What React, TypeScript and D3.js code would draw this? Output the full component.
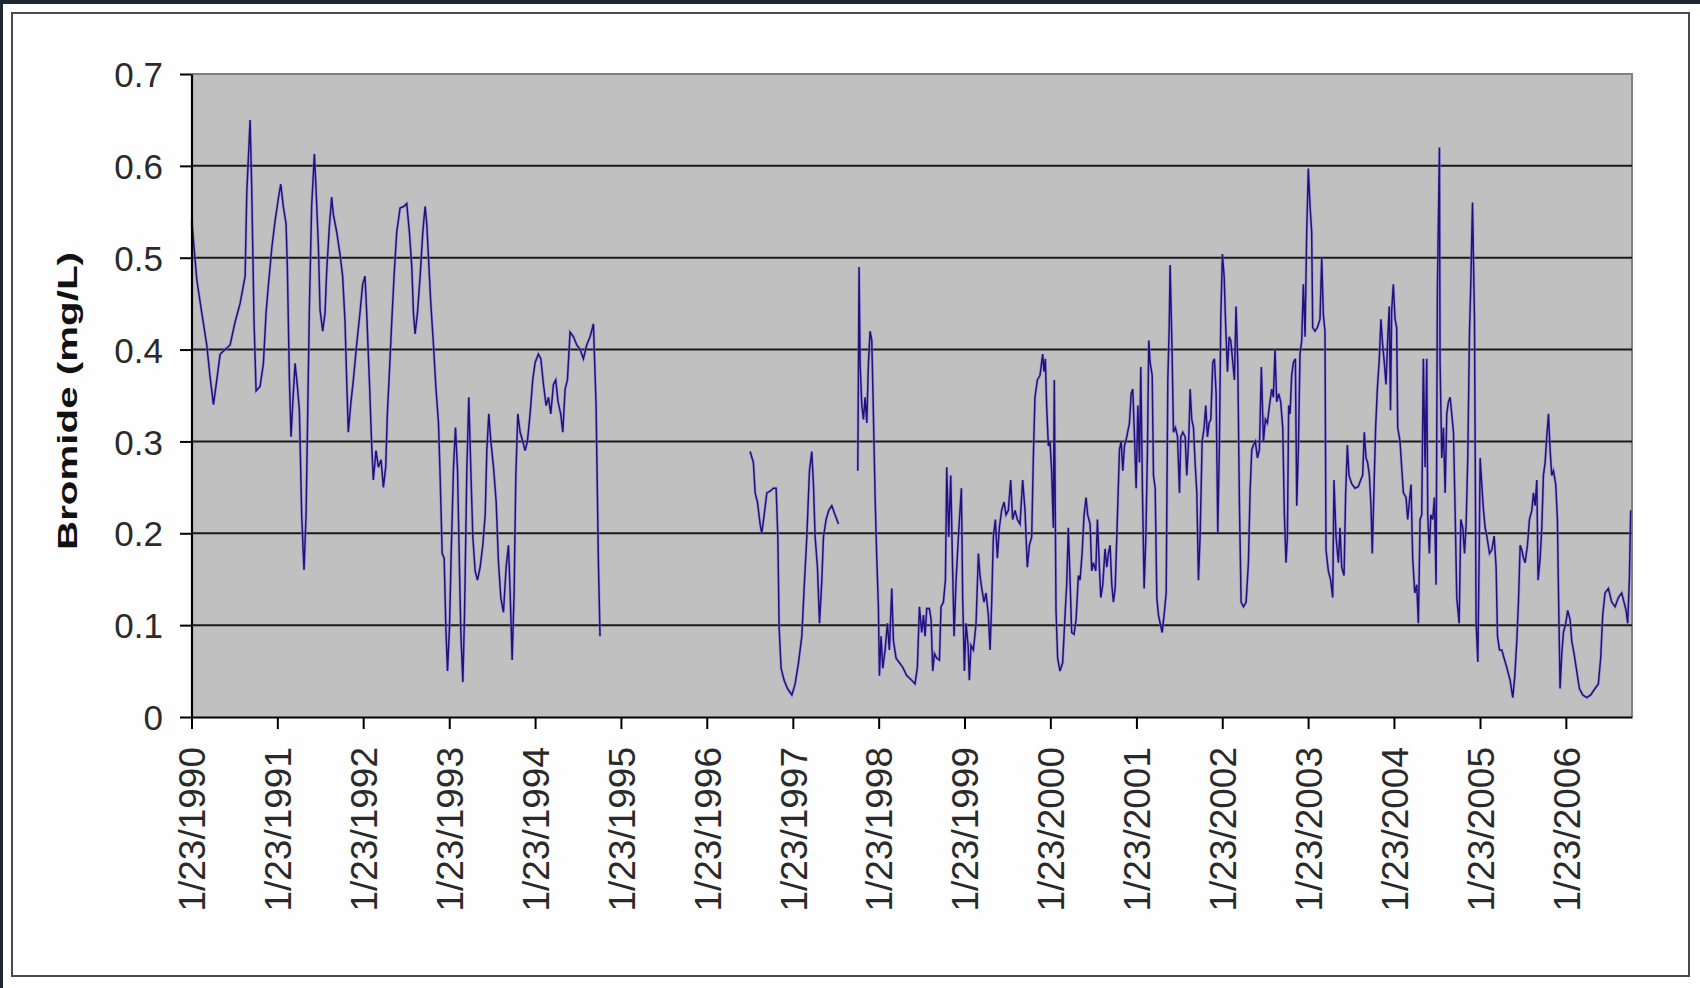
import React, { useEffect, useRef } from "react";
import * as d3 from "d3";

// Bromide (mg/L) readings, [decimal year, value]
const segment1: [number, number][] = [
  [1990.064, 0.54], [1990.091, 0.51], [1990.122, 0.476], [1990.18, 0.44], [1990.238, 0.405],
  [1990.277, 0.37], [1990.316, 0.34], [1990.355, 0.367], [1990.394, 0.395], [1990.452, 0.4],
  [1990.51, 0.405], [1990.568, 0.43], [1990.626, 0.45], [1990.685, 0.48], [1990.704, 0.57],
  [1990.743, 0.65], [1990.762, 0.575], [1990.789, 0.43], [1990.813, 0.355], [1990.859, 0.36],
  [1990.898, 0.385], [1990.929, 0.44], [1990.956, 0.47], [1990.995, 0.51], [1991.034, 0.54],
  [1991.073, 0.565], [1991.1, 0.58], [1991.131, 0.555], [1991.162, 0.537], [1991.177, 0.49],
  [1991.201, 0.367], [1991.22, 0.305], [1991.239, 0.34], [1991.267, 0.385], [1991.294, 0.36],
  [1991.317, 0.334], [1991.344, 0.22], [1991.371, 0.16], [1991.395, 0.22], [1991.414, 0.33],
  [1991.433, 0.443], [1991.46, 0.556], [1991.492, 0.613], [1991.511, 0.575], [1991.538, 0.514],
  [1991.558, 0.443], [1991.589, 0.42], [1991.616, 0.44], [1991.635, 0.485], [1991.666, 0.533],
  [1991.693, 0.566], [1991.713, 0.547], [1991.752, 0.528], [1991.79, 0.504], [1991.821, 0.48],
  [1991.849, 0.43], [1991.868, 0.367], [1991.887, 0.31], [1991.915, 0.34], [1991.946, 0.367],
  [1991.984, 0.405], [1992.023, 0.44], [1992.054, 0.471], [1992.081, 0.48], [1992.101, 0.44],
  [1992.132, 0.367], [1992.159, 0.296], [1992.178, 0.258], [1992.209, 0.29], [1992.237, 0.272],
  [1992.268, 0.28], [1992.295, 0.25], [1992.322, 0.272], [1992.341, 0.33], [1992.365, 0.376],
  [1992.392, 0.43], [1992.419, 0.48], [1992.45, 0.528], [1992.489, 0.554], [1992.535, 0.556],
  [1992.566, 0.559], [1992.597, 0.528], [1992.625, 0.49], [1992.644, 0.44], [1992.663, 0.417],
  [1992.691, 0.44], [1992.722, 0.48], [1992.753, 0.528], [1992.78, 0.556], [1992.799, 0.537],
  [1992.819, 0.5], [1992.846, 0.45], [1992.877, 0.405], [1992.904, 0.36], [1992.935, 0.32],
  [1992.954, 0.263], [1992.978, 0.178], [1993.001, 0.173], [1993.021, 0.097], [1993.04, 0.05],
  [1993.063, 0.097], [1993.083, 0.178], [1993.11, 0.272], [1993.133, 0.315], [1993.157, 0.268],
  [1993.176, 0.178], [1993.195, 0.092], [1993.219, 0.038], [1993.238, 0.111], [1993.265, 0.268],
  [1993.288, 0.348], [1993.312, 0.268], [1993.335, 0.196], [1993.362, 0.159], [1993.389, 0.149],
  [1993.42, 0.163], [1993.451, 0.187], [1993.479, 0.22], [1993.498, 0.29], [1993.521, 0.33],
  [1993.545, 0.3], [1993.576, 0.272], [1993.607, 0.234], [1993.634, 0.168], [1993.661, 0.13],
  [1993.692, 0.114], [1993.723, 0.163], [1993.75, 0.187], [1993.77, 0.135], [1993.793, 0.062],
  [1993.816, 0.135], [1993.836, 0.263], [1993.859, 0.33], [1993.886, 0.31], [1993.917, 0.3],
  [1993.944, 0.29], [1993.971, 0.3], [1994.002, 0.33], [1994.033, 0.367], [1994.061, 0.386],
  [1994.099, 0.395], [1994.127, 0.39], [1994.158, 0.362], [1994.189, 0.339], [1994.216, 0.348],
  [1994.243, 0.33], [1994.274, 0.362], [1994.301, 0.367], [1994.328, 0.343], [1994.359, 0.33],
  [1994.383, 0.31], [1994.41, 0.357], [1994.437, 0.367], [1994.468, 0.419], [1994.507, 0.414],
  [1994.546, 0.405], [1994.585, 0.4], [1994.623, 0.39], [1994.662, 0.405], [1994.701, 0.414],
  [1994.74, 0.428], [1994.771, 0.339], [1994.798, 0.168], [1994.817, 0.088],
];

const segment2: [number, number][] = [
  [1996.564, 0.289], [1996.602, 0.277], [1996.622, 0.244], [1996.649, 0.234], [1996.68, 0.21],
  [1996.699, 0.2], [1996.727, 0.22], [1996.758, 0.244], [1996.796, 0.246], [1996.835, 0.249],
  [1996.866, 0.249], [1996.886, 0.196], [1996.901, 0.097], [1996.924, 0.053], [1996.959, 0.04],
  [1996.998, 0.031], [1997.049, 0.024], [1997.087, 0.036], [1997.126, 0.059], [1997.165, 0.088],
  [1997.192, 0.14], [1997.223, 0.196], [1997.254, 0.268], [1997.281, 0.289], [1997.301, 0.252],
  [1997.32, 0.196], [1997.347, 0.163], [1997.371, 0.102], [1997.398, 0.149], [1997.417, 0.196],
  [1997.448, 0.215], [1997.479, 0.225], [1997.514, 0.23], [1997.553, 0.22], [1997.592, 0.21],
];

const segment3: [number, number][] = [
  [1997.817, 0.268], [1997.832, 0.49], [1997.844, 0.385], [1997.863, 0.34], [1997.883, 0.324],
  [1997.902, 0.348], [1997.922, 0.32], [1997.941, 0.385], [1997.96, 0.42], [1997.98, 0.41],
  [1997.999, 0.33], [1998.019, 0.239], [1998.038, 0.173], [1998.057, 0.12], [1998.069, 0.045],
  [1998.088, 0.088], [1998.108, 0.053], [1998.135, 0.073], [1998.162, 0.102], [1998.185, 0.073],
  [1998.213, 0.14], [1998.232, 0.083], [1998.263, 0.064], [1998.302, 0.059], [1998.341, 0.054],
  [1998.387, 0.045], [1998.445, 0.04], [1998.484, 0.036], [1998.511, 0.054], [1998.535, 0.12],
  [1998.562, 0.092], [1998.582, 0.111], [1998.601, 0.088], [1998.62, 0.118], [1998.651, 0.118],
  [1998.671, 0.106], [1998.69, 0.05], [1998.71, 0.069], [1998.737, 0.064], [1998.768, 0.062],
  [1998.787, 0.12], [1998.814, 0.125], [1998.838, 0.149], [1998.853, 0.272], [1998.876, 0.196],
  [1998.9, 0.263], [1998.919, 0.173], [1998.939, 0.088], [1998.962, 0.149], [1998.989, 0.196],
  [1999.008, 0.225], [1999.024, 0.249], [1999.039, 0.13], [1999.059, 0.05], [1999.078, 0.102],
  [1999.102, 0.078], [1999.117, 0.04], [1999.136, 0.078], [1999.164, 0.073], [1999.195, 0.102],
  [1999.222, 0.178], [1999.241, 0.154], [1999.261, 0.14], [1999.288, 0.125], [1999.311, 0.135],
  [1999.338, 0.111], [1999.358, 0.073], [1999.377, 0.125], [1999.396, 0.196], [1999.42, 0.215],
  [1999.443, 0.173], [1999.466, 0.206], [1999.493, 0.225], [1999.521, 0.234], [1999.544, 0.22],
  [1999.571, 0.225], [1999.598, 0.258], [1999.621, 0.215], [1999.649, 0.225], [1999.676, 0.215],
  [1999.707, 0.21], [1999.738, 0.258], [1999.765, 0.225], [1999.792, 0.163], [1999.816, 0.187],
  [1999.843, 0.196], [1999.862, 0.282], [1999.881, 0.348], [1999.909, 0.367], [1999.94, 0.372],
  [1999.971, 0.395], [1999.986, 0.376], [2000.002, 0.39], [2000.017, 0.339], [2000.037, 0.295],
  [2000.056, 0.3], [2000.075, 0.268], [2000.095, 0.206], [2000.106, 0.367], [2000.126, 0.116],
  [2000.145, 0.064], [2000.172, 0.05], [2000.203, 0.059], [2000.231, 0.111], [2000.25, 0.144],
  [2000.269, 0.206], [2000.289, 0.149], [2000.308, 0.092], [2000.335, 0.09], [2000.359, 0.106],
  [2000.386, 0.154], [2000.405, 0.149], [2000.429, 0.178], [2000.452, 0.22], [2000.475, 0.239],
  [2000.494, 0.22], [2000.522, 0.21], [2000.541, 0.159], [2000.56, 0.168], [2000.588, 0.159],
  [2000.607, 0.215], [2000.63, 0.163], [2000.646, 0.13], [2000.669, 0.144], [2000.696, 0.183],
  [2000.716, 0.163], [2000.735, 0.178], [2000.754, 0.187], [2000.774, 0.144], [2000.793, 0.125],
  [2000.813, 0.14], [2000.84, 0.22], [2000.863, 0.291], [2000.883, 0.3], [2000.902, 0.268],
  [2000.921, 0.295], [2000.948, 0.305], [2000.979, 0.32], [2000.999, 0.352], [2001.018, 0.357],
  [2001.038, 0.305], [2001.057, 0.249], [2001.077, 0.339], [2001.096, 0.277], [2001.111, 0.381],
  [2001.131, 0.244], [2001.15, 0.14], [2001.17, 0.196], [2001.189, 0.291], [2001.204, 0.41],
  [2001.22, 0.386], [2001.244, 0.372], [2001.259, 0.263], [2001.279, 0.249], [2001.298, 0.13],
  [2001.317, 0.111], [2001.337, 0.102], [2001.36, 0.092], [2001.383, 0.111], [2001.407, 0.135],
  [2001.426, 0.367], [2001.442, 0.424], [2001.453, 0.492], [2001.473, 0.41], [2001.492, 0.31],
  [2001.515, 0.315], [2001.539, 0.305], [2001.562, 0.244], [2001.577, 0.305], [2001.601, 0.31],
  [2001.628, 0.305], [2001.647, 0.263], [2001.671, 0.305], [2001.686, 0.357], [2001.705, 0.324],
  [2001.725, 0.315], [2001.744, 0.277], [2001.764, 0.244], [2001.783, 0.149], [2001.802, 0.196],
  [2001.826, 0.3], [2001.849, 0.315], [2001.868, 0.339], [2001.888, 0.305], [2001.907, 0.32],
  [2001.927, 0.324], [2001.95, 0.386], [2001.969, 0.39], [2001.989, 0.352], [2002.008, 0.201],
  [2002.027, 0.296], [2002.043, 0.433], [2002.062, 0.504], [2002.082, 0.48], [2002.101, 0.424],
  [2002.121, 0.376], [2002.14, 0.414], [2002.159, 0.41], [2002.179, 0.39], [2002.202, 0.367],
  [2002.221, 0.447], [2002.241, 0.386], [2002.26, 0.234], [2002.28, 0.125], [2002.307, 0.12],
  [2002.338, 0.125], [2002.365, 0.168], [2002.384, 0.244], [2002.404, 0.291], [2002.423, 0.296],
  [2002.446, 0.3], [2002.47, 0.282], [2002.493, 0.291], [2002.516, 0.381], [2002.54, 0.3],
  [2002.563, 0.324], [2002.586, 0.32], [2002.61, 0.339], [2002.637, 0.357], [2002.656, 0.348],
  [2002.675, 0.4], [2002.695, 0.343], [2002.718, 0.352], [2002.741, 0.343], [2002.765, 0.315],
  [2002.784, 0.22], [2002.803, 0.168], [2002.819, 0.196], [2002.834, 0.339], [2002.85, 0.33],
  [2002.869, 0.372], [2002.889, 0.386], [2002.912, 0.39], [2002.928, 0.23], [2002.947, 0.291],
  [2002.966, 0.395], [2002.986, 0.41], [2003.005, 0.471], [2003.025, 0.414], [2003.044, 0.528],
  [2003.063, 0.597], [2003.083, 0.556], [2003.102, 0.528], [2003.114, 0.424], [2003.141, 0.42],
  [2003.168, 0.424], [2003.199, 0.433], [2003.219, 0.5], [2003.238, 0.438], [2003.257, 0.42],
  [2003.269, 0.182], [2003.296, 0.159], [2003.323, 0.149], [2003.347, 0.13], [2003.362, 0.258],
  [2003.386, 0.196], [2003.413, 0.168], [2003.432, 0.206], [2003.452, 0.163], [2003.479, 0.154],
  [2003.498, 0.244], [2003.518, 0.296], [2003.537, 0.263], [2003.568, 0.254], [2003.607, 0.249],
  [2003.646, 0.251], [2003.673, 0.258], [2003.696, 0.263], [2003.715, 0.31], [2003.735, 0.282],
  [2003.754, 0.277], [2003.774, 0.263], [2003.793, 0.23], [2003.808, 0.178], [2003.828, 0.249],
  [2003.847, 0.315], [2003.867, 0.357], [2003.89, 0.39], [2003.909, 0.433], [2003.929, 0.405],
  [2003.948, 0.386], [2003.968, 0.362], [2003.987, 0.41], [2004.006, 0.447], [2004.02, 0.334],
  [2004.034, 0.443], [2004.053, 0.471], [2004.073, 0.433], [2004.092, 0.424], [2004.104, 0.315],
  [2004.131, 0.3], [2004.15, 0.272], [2004.17, 0.244], [2004.201, 0.239], [2004.22, 0.215],
  [2004.239, 0.234], [2004.259, 0.253], [2004.278, 0.173], [2004.302, 0.135], [2004.325, 0.144],
  [2004.344, 0.102], [2004.364, 0.215], [2004.383, 0.22], [2004.402, 0.39], [2004.422, 0.272],
  [2004.441, 0.39], [2004.453, 0.22], [2004.472, 0.178], [2004.488, 0.22], [2004.511, 0.215],
  [2004.53, 0.239], [2004.55, 0.144], [2004.565, 0.466], [2004.589, 0.62], [2004.596, 0.386],
  [2004.616, 0.282], [2004.635, 0.315], [2004.655, 0.244], [2004.674, 0.33], [2004.693, 0.343],
  [2004.713, 0.348], [2004.732, 0.33], [2004.752, 0.31], [2004.771, 0.225], [2004.79, 0.13],
  [2004.818, 0.102], [2004.837, 0.215], [2004.86, 0.206], [2004.88, 0.178], [2004.899, 0.21],
  [2004.918, 0.282], [2004.938, 0.419], [2004.953, 0.471], [2004.973, 0.56], [2004.996, 0.433],
  [2005.015, 0.102], [2005.035, 0.06], [2005.05, 0.173], [2005.062, 0.282], [2005.081, 0.253],
  [2005.101, 0.225], [2005.12, 0.206], [2005.14, 0.197], [2005.171, 0.178], [2005.198, 0.182],
  [2005.225, 0.197], [2005.248, 0.163], [2005.264, 0.088], [2005.287, 0.073], [2005.314, 0.073],
  [2005.341, 0.064], [2005.372, 0.054], [2005.411, 0.04], [2005.442, 0.021], [2005.466, 0.045],
  [2005.489, 0.083], [2005.508, 0.125], [2005.528, 0.187], [2005.547, 0.182], [2005.567, 0.173],
  [2005.586, 0.168], [2005.613, 0.187], [2005.636, 0.215], [2005.664, 0.225], [2005.683, 0.244],
  [2005.702, 0.23], [2005.722, 0.258], [2005.737, 0.149], [2005.761, 0.173], [2005.78, 0.206],
  [2005.799, 0.263], [2005.819, 0.277], [2005.838, 0.305], [2005.858, 0.33], [2005.877, 0.291],
  [2005.896, 0.263], [2005.916, 0.268], [2005.943, 0.253], [2005.962, 0.215], [2005.974, 0.14],
  [2005.993, 0.031], [2006.013, 0.069], [2006.032, 0.092], [2006.059, 0.102], [2006.082, 0.116],
  [2006.11, 0.106], [2006.129, 0.083], [2006.156, 0.069], [2006.187, 0.05], [2006.218, 0.031],
  [2006.257, 0.024], [2006.304, 0.021], [2006.35, 0.024], [2006.4, 0.031], [2006.439, 0.036],
  [2006.466, 0.064], [2006.49, 0.111], [2006.517, 0.135], [2006.556, 0.14], [2006.595, 0.125],
  [2006.634, 0.12], [2006.672, 0.13], [2006.711, 0.135], [2006.738, 0.125], [2006.762, 0.116],
  [2006.781, 0.102], [2006.8, 0.149], [2006.816, 0.225],
];

const segments = [segment1, segment2, segment3];
const yTickValues = [0, 0.1, 0.2, 0.3, 0.4, 0.5, 0.6, 0.7];
const gridValues = [0.1, 0.2, 0.3, 0.4, 0.5, 0.6];
const xTickYears = d3.range(1990, 2007);
const yAxisTitle = "Bromide (mg/L)";
const domainStartYear = 1990;
const domainEndDecimal = 2006.831;

function decimalToDate(t: number): Date {
  const y = Math.floor(t);
  const s = Date.UTC(y, 0, 1);
  const e = Date.UTC(y + 1, 0, 1);
  return new Date(s + (t - y) * (e - s));
}

const FONT = "'Liberation Sans', Arial, Helvetica, sans-serif";

export default function App() {
  const ref = useRef<SVGSVGElement>(null);

  useEffect(() => {
    const svg = d3.select(ref.current);
    svg.selectAll("*").remove();

    const left = 191.5, right = 1632, top = 74, bottom = 717;

    const x = d3
      .scaleUtc()
      .domain([new Date(Date.UTC(domainStartYear, 0, 23)), decimalToDate(domainEndDecimal)])
      .range([left, right]);
    const y = d3.scaleLinear().domain([0, 0.7]).range([bottom, top]);

    // page background / frame
    svg.append("rect").attr("x", 0).attr("y", 0).attr("width", 1700).attr("height", 988).attr("fill", "#1d2831");
    svg.append("rect").attr("x", 3).attr("y", 4).attr("width", 1697).attr("height", 984).attr("fill", "#ffffff");
    svg
      .append("rect")
      .attr("x", 12)
      .attr("y", 13)
      .attr("width", 1677)
      .attr("height", 963)
      .attr("fill", "#fefefe")
      .attr("stroke", "#4a4a4a")
      .attr("stroke-width", 2);

    // plot area
    svg
      .append("rect")
      .attr("x", left)
      .attr("y", top)
      .attr("width", right - left)
      .attr("height", bottom - top)
      .attr("fill", "#c0c0c0");
    svg
      .append("path")
      .attr("d", `M${left},${top}H${right}V${bottom}`)
      .attr("fill", "none")
      .attr("stroke", "#808080")
      .attr("stroke-width", 2);

    // gridlines
    svg
      .append("g")
      .selectAll("line")
      .data(gridValues)
      .join("line")
      .attr("x1", left)
      .attr("x2", right)
      .attr("y1", (d) => y(d))
      .attr("y2", (d) => y(d))
      .attr("stroke", "#1a1a1a")
      .attr("stroke-width", 2);

    // data line
    const line = d3
      .line<[number, number]>()
      .x((d) => x(decimalToDate(d[0])))
      .y((d) => y(d[1]));
    const lines = svg.append("g");
    segments.forEach((seg) => {
      lines
        .append("path")
        .attr("d", line(seg) as string)
        .attr("fill", "none")
        .attr("stroke", "#8f7fd6")
        .attr("stroke-opacity", 0.55)
        .attr("stroke-width", 3)
        .attr("stroke-linejoin", "miter");
      lines
        .append("path")
        .attr("d", line(seg) as string)
        .attr("fill", "none")
        .attr("stroke", "#22107e")
        .attr("stroke-width", 1.5)
        .attr("stroke-linejoin", "miter");
    });

    // y axis
    const gy = svg
      .append("g")
      .attr("transform", `translate(${left},0)`)
      .call(
        d3
          .axisLeft(y)
          .tickValues(yTickValues)
          .tickSize(11.5)
          .tickSizeOuter(0)
          .tickPadding(17)
          .tickFormat((d) => (+d === 0 ? "0" : d3.format(".1f")(+d)))
      );
    gy.select(".domain").attr("stroke", "#000").attr("stroke-width", 2.2);
    gy.selectAll(".tick line").attr("stroke", "#000").attr("stroke-width", 2);
    gy.selectAll(".tick text")
      .attr("fill", "#2a2a2a")
      .style("font-family", FONT)
      .style("font-size", "35px")
      .attr("dy", "0.36em");

    // x axis
    const gx = svg
      .append("g")
      .attr("transform", `translate(0,${bottom})`)
      .call(
        d3
          .axisBottom(x)
          .tickValues(xTickYears.map((yr) => new Date(Date.UTC(yr, 0, 23))))
          .tickSize(12)
          .tickSizeOuter(0)
          .tickFormat((d) => `1/23/${(d as Date).getUTCFullYear()}`)
      );
    gx.select(".domain").attr("stroke", "#000").attr("stroke-width", 2.2);
    gx.selectAll(".tick line").attr("stroke", "#000").attr("stroke-width", 2);
    gx.selectAll(".tick text")
      .attr("fill", "#2a2a2a")
      .style("font-family", FONT)
      .style("font-size", "37px")
      .attr("transform", "rotate(-90)")
      .attr("text-anchor", "end")
      .attr("x", -30)
      .attr("y", 0)
      .attr("dy", "0.36em");

    // y-axis title
    svg
      .append("text")
      .attr("transform", "translate(77,401) rotate(-90)")
      .attr("text-anchor", "middle")
      .attr("textLength", 298)
      .attr("lengthAdjust", "spacingAndGlyphs")
      .style("font-family", FONT)
      .style("font-weight", "bold")
      .style("font-size", "27px")
      .attr("fill", "#111")
      .text(yAxisTitle);
  }, []);

  return (
    <svg
      ref={ref}
      width={1700}
      height={988}
      style={{ position: "absolute", left: 0, top: 0, display: "block" }}
    />
  );
}
